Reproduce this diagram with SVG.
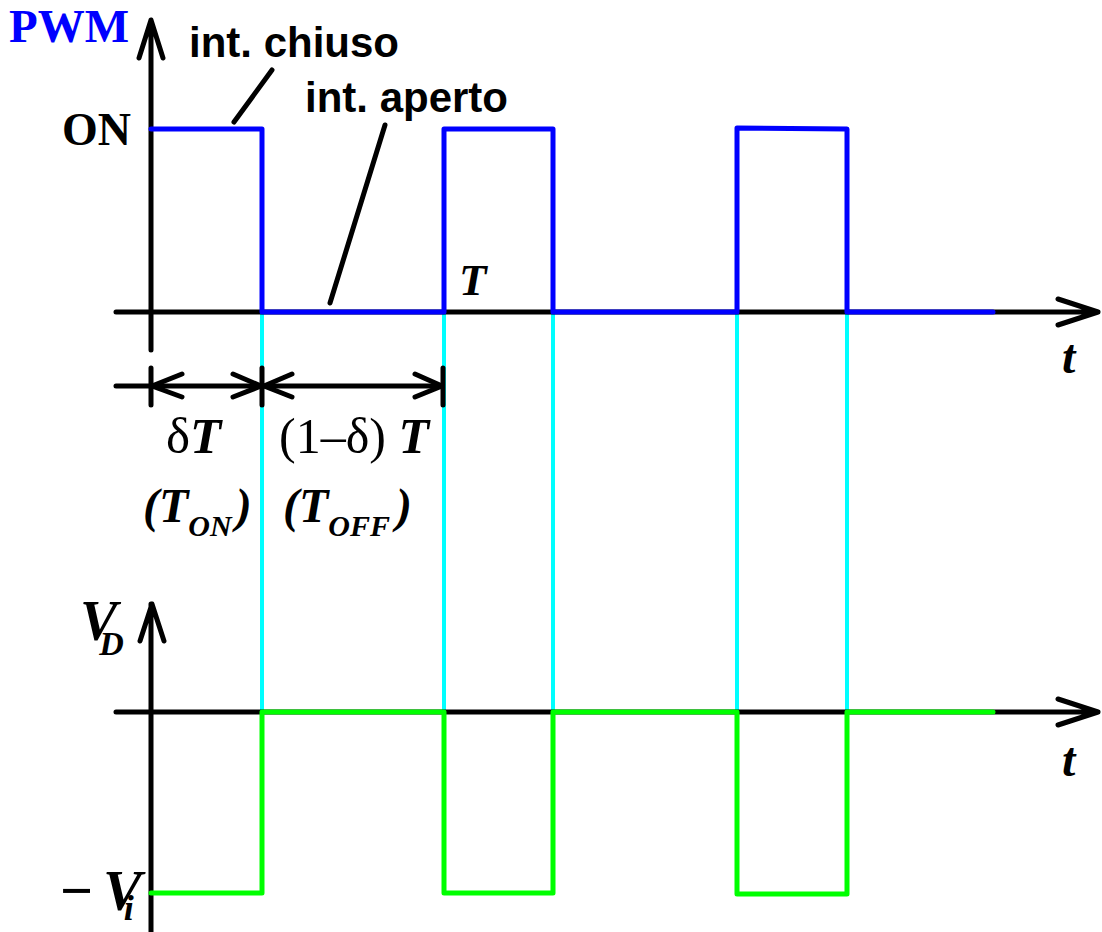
<svg xmlns="http://www.w3.org/2000/svg" width="1102" height="932" viewBox="0 0 1102 932">
<style>
.ax{stroke:#000;stroke-width:5;fill:none;stroke-linecap:round;stroke-linejoin:round}
.pwm{stroke:#0000ff;stroke-width:5;fill:none;stroke-linejoin:round;stroke-linecap:round}
.vd{stroke:#00ff00;stroke-width:5;fill:none;stroke-linejoin:round;stroke-linecap:round}
.cy{stroke:#00ffff;stroke-width:4;fill:none}
.sans{font-family:"Liberation Sans",Arial,sans-serif;font-weight:bold;font-size:42px;fill:#000}
.ser{font-family:"Liberation Serif","Times New Roman",serif;fill:#000}
.bi{font-weight:bold;font-style:italic}
</style>
<rect width="1102" height="932" fill="#fff"/>
<g id="guides">
<path class="cy" d="M262,312V712M444,312V712M553,312V712M737,312V712M847,312V712"/>
</g>
<g id="axes">
<path class="ax" d="M151,20V350M139,58L151,20L163,58"/>
<path class="ax" d="M116,312H1098M1058,299L1098,312L1058,325"/>
<path class="ax" d="M151,604V932M140,641L152,604L164,641"/>
<path class="ax" d="M116,712H1098M1058,699L1098,712L1058,725"/>
</g>
<g id="waveforms">
<path class="pwm" d="M151,129H262V312H444V129H553V312H737V128L847,129V312H993"/>
<path class="vd" d="M151,893H262V712H444V893H553V712H737V894H847V712H993"/>
</g>
<g id="connectors">
<path class="ax" d="M234,122L272,70"/>
<path class="ax" d="M330,303L385,125"/>
<path class="ax" d="M116,386H443M151,368V405M262,368V405M443,368V405"/>
<path class="ax" d="M182,374L152,386L182,397M233,374L261,386L233,397M292,374L264,386L292,397M415,374L442,386L415,397"/>
</g>
<g id="labels">
<text class="ser" x="9" y="42" font-size="47" font-weight="bold" style="fill:#0000ff">PWM</text>
<text class="sans" x="189" y="57">int. chiuso</text>
<text class="sans" x="305" y="112">int. aperto</text>
<text class="ser" x="62" y="145" font-size="46" font-weight="bold">ON</text>
<text class="ser bi" x="459" y="295" font-size="45">T</text>
<text class="ser bi" x="1062" y="373" font-size="48">t</text>
<text class="ser bi" x="1062" y="776" font-size="48">t</text>
<text class="ser" x="166" y="453" font-size="51">δ<tspan class="bi">T</tspan></text>
<text class="ser" x="279" y="453" font-size="50">(1–δ) <tspan class="bi">T</tspan></text>
<text class="ser bi" x="143" y="522" font-size="48">(T<tspan font-size="30" dy="14">ON</tspan><tspan dy="-14" dx="4">)</tspan></text>
<text class="ser bi" x="283" y="522" font-size="48">(T<tspan font-size="30" dy="14">OFF</tspan><tspan dy="-14" dx="6">)</tspan></text>
<text class="ser bi" x="80" y="640" font-size="56">V<tspan font-size="34" dy="15" dx="-18">D</tspan></text>
<text class="ser bi" x="60" y="910" font-size="58"><tspan font-style="normal">−</tspan><tspan dx="10">V</tspan><tspan font-size="36" dy="10" dx="-18">i</tspan></text>
</g>
</svg>
